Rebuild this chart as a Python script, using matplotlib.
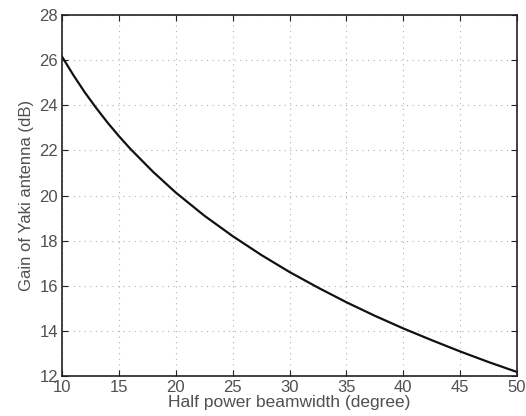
import matplotlib
matplotlib.use('Agg')
import matplotlib.pyplot as plt

plt.rcParams['font.family'] = ['Liberation Sans', 'DejaVu Sans']

# values
beamwidth = [10, 11, 12, 13, 14, 15, 16, 18, 20, 22.5, 25, 27.5, 30, 32.5, 35,
             37.5, 40, 42.5, 45, 47.5, 50]
gain = [26.15, 25.33, 24.57, 23.88, 23.23, 22.63, 22.07, 21.05, 20.13, 19.11,
        18.20, 17.37, 16.61, 15.92, 15.27, 14.67, 14.11, 13.59, 13.09, 12.62, 12.18]
xticks = [10, 15, 20, 25, 30, 35, 40, 45, 50]
yticks = [12, 14, 16, 18, 20, 22, 24, 26, 28]

txt = '#505050'
fig = plt.figure(figsize=(5.26, 4.16), dpi=100)
ax = fig.add_axes([0.118, 0.096, 0.865, 0.868])
ax.plot(beamwidth, gain, color='#111111', lw=1.6)
ax.set_xlim(10, 50)
ax.set_ylim(12, 28)
ax.set_xticks(xticks)
ax.set_yticks(yticks)
ax.grid(True, linestyle=(0, (1, 4)), color='#b0b0b0', lw=0.8)
ax.tick_params(direction='in', length=4, colors='#222222', labelcolor=txt,
               labelsize=12, top=True, right=True, pad=3)
for s in ax.spines.values():
    s.set_color('#222222')
    s.set_linewidth(1.2)
ax.set_xlabel('Half power beamwidth (degree)', color=txt, fontsize=12.5, labelpad=0)
ax.set_ylabel('Gain of Yaki antenna (dB)', color=txt, fontsize=12, labelpad=4)
fig.savefig('out.png', dpi=100)
